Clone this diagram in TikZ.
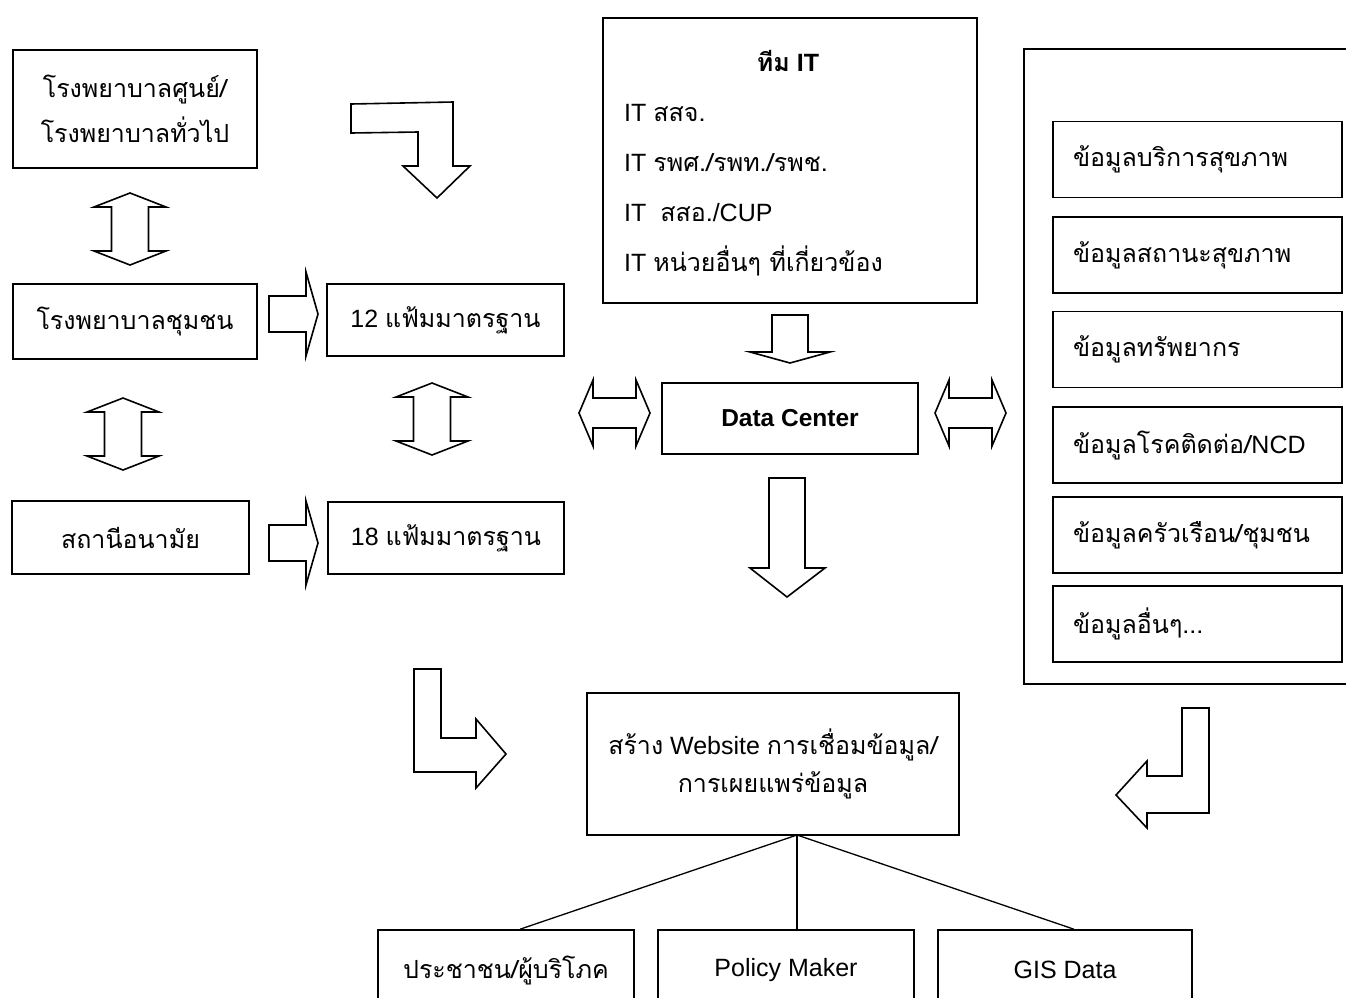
\documentclass[tikz,border=0pt]{standalone}
\usepackage{fontspec}
\setmainfont{Liberation Sans}
\newfontfamily\thai[Script=Thai]{Loma}
\begin{document}
\begin{tikzpicture}
[   x=1pt, y=-1pt,
    box/.style={draw=black, line width=1.6pt, inner sep=0pt, minimum width=#1, minimum height=74pt, align=center},
    blk/.style={draw=black, line width=1.6pt, fill=white, line join=miter},
    font=\fontsize{25}{45}\selectfont,
]
    \useasboundingbox (0,0) rectangle (1346,997);
    \clip (0,0) rectangle (1346,997);
    % left column
    \node[box=244pt, minimum height=118pt] (hc) at (135,109) {{\thai โรงพยาบาลศูนย์/}\\{\thai โรงพยาบาลทั่วไป}};
    \node[box=244pt, minimum height=75pt] (ch) at (135,321.5) {\thai โรงพยาบาลชุมชน};
    \node[box=237pt, minimum height=73pt] (hs) at (130.5,537.5) {\thai สถานีอนามัย};
    \node[box=237pt, minimum height=72pt] (f12) at (445.5,320) {12 {\thai แฟ้มมาตรฐาน}};
    \node[box=236pt, minimum height=72pt] (f18) at (446,538) {18 {\thai แฟ้มมาตรฐาน}};
    % IT team
    \node[box=374pt, minimum height=285pt] (it) at (790,160.5) {};
    \node[anchor=base, inner sep=0pt, font=\fontsize{25}{45}\selectfont\bfseries] (it-0) at (788,71) {{\thai ทีม} IT};
    \foreach \t [count=\i] in {IT {\thai สสจ.}, IT {\thai รพศ./รพท./รพช.}, IT\ \ {\thai สสอ.}/CUP, IT {\thai หน่วยอื่นๆ ที่เกี่ยวข้อง}}
    {   \node[anchor=base west, inner sep=0pt] (it-\i) at (624,{71+50*\i}) {\t};
    }
    \node[box=256pt, minimum height=71pt, font=\fontsize{24.5}{28}\selectfont\bfseries] (dc) at (790,418.5) {Data Center};
    % data panel
    \node[box=346pt, minimum height=635pt] (panel) at (1197,366.5) {};
    \foreach \y/\t [count=\i] in {159.5/{\thai ข้อมูลบริการสุขภาพ}, 255/{\thai ข้อมูลสถานะสุขภาพ}, 349.5/{\thai ข้อมูลทรัพยากร}, 445/{{\thai ข้อมูลโรคติดต่อ/}NCD}, 535/{\thai ข้อมูลครัวเรือน/ชุมชน}, 624/{\thai ข้อมูลอื่นๆ...}}
    {   \node[box=289pt, minimum height=76pt, text width=249pt, align=left] (d-\i) at (1197.5,\y) {\t};
    }
    % website and users
    \node[box=372pt, minimum height=142pt, font=\fontsize{25}{38}\selectfont] (web) at (773,764) {{\thai สร้าง} Website {\thai การเชื่อมข้อมูล/}\\{\thai การเผยแพร่ข้อมูล}};
    \node[box=256pt, minimum height=80pt] (pub) at (506,970) {\thai ประชาชน/ผู้บริโภค};
    \node[box=256pt, minimum height=80pt] (pol) at (786,970) {Policy Maker};
    \node[box=254pt, minimum height=80pt] (gis) at (1065,970) {GIS Data};
    \coordinate (hub) at (797,835);
    \draw[line width=1.3pt] (hub) -- ([xshift=14pt]pub.north);
    \draw[line width=1.3pt] (hub) -- (hub |- pol.north);
    \draw[line width=1.3pt] (hub) -- ([xshift=9pt]gis.north);
    % block arrows
    \foreach \c/\t/\b in {130/193/265, 123/398/470, 432/383/455}
    {   \draw[blk] (\c,\t) -- (\c+36,\t+14) -- (\c+18.5,\t+14) -- (\c+18.5,\b-14) -- (\c+36,\b-14) -- (\c,\b)
            -- (\c-36,\b-14) -- (\c-18.5,\b-14) -- (\c-18.5,\t+14) -- (\c-36,\t+14) -- cycle;
    }
    \foreach \l/\r in {579/650, 935/1006}
    {   \draw[blk] (\l,413) -- (\l+14,380) -- (\l+14,398) -- (\r-14,398) -- (\r-14,380) -- (\r,413)
            -- (\r-14,446) -- (\r-14,428) -- (\l+14,428) -- (\l+14,446) -- cycle;
    }
    \foreach \c in {314, 543}
    {   \draw[blk] (269,\c-18) -- (306,\c-18) -- (306,\c-42) -- (318,\c) -- (306,\c+42) -- (306,\c+18) -- (269,\c+18) -- cycle;
    }
    \draw[blk] (772,315) -- (808,315) -- (808,352) -- (830,352) -- (790,363) -- (750,352) -- (772,352) -- cycle;
    \draw[blk] (769,478) -- (805,478) -- (805,568) -- (825,568) -- (787,597) -- (750,568) -- (769,568) -- cycle;
    \draw[blk] (351,104) -- (453,102) -- (453,166) -- (470,166) -- (437,198) -- (403,166) -- (418,166) -- (418,132) -- (351,133) -- cycle;
    \draw[blk] (414,669) -- (441,669) -- (441,738) -- (476,738) -- (476,719) -- (506,754) -- (476,788) -- (476,772) -- (414,772) -- cycle;
    \draw[blk] (1182,708) -- (1209,708) -- (1209,813) -- (1147,813) -- (1147,828) -- (1116,795) -- (1147,761) -- (1147,776) -- (1182,776) -- cycle;
\end{tikzpicture}
\end{document}
